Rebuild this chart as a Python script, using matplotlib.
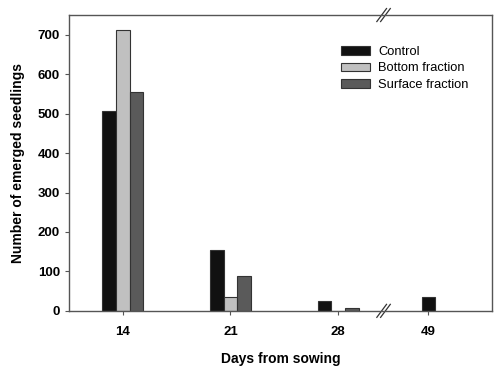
import numpy as np
import matplotlib.pyplot as plt

plt.rcParams['font.family'] = ['Liberation Sans', 'DejaVu Sans']

days = ['14', '21', '28', '49']
day_pos = [0, 1, 2, 2.84]
control = [506, 154, 25, 34]
bottom = [713, 34, 0, 0]
surface = [555, 89, 8, 0]

fig = plt.figure(figsize=(5, 3.67), dpi=100)
ax = fig.add_axes([0.138, 0.153, 0.846, 0.806])

w = 0.127
pos = np.array(day_pos)
# first three days have all three groups, day 49 only control
ax.bar(pos[:3] - w, control[:3], w, color='#111111', edgecolor='#333333', linewidth=0.8, label='Control')
ax.bar(pos[:3], bottom[:3], w, color='#c0c0c0', edgecolor='#333333', linewidth=0.8, label='Bottom fraction')
ax.bar(pos[:3] + w, surface[:3], w, color='#5a5a5a', edgecolor='#333333', linewidth=0.8, label='Surface fraction')
ax.bar(pos[3], control[3], w, color='#111111', edgecolor='#333333', linewidth=0.8)

ax.set_xlim(-0.5, 3.43)
ax.set_ylim(0, 750)
ax.set_xticks(day_pos)
ax.set_xticklabels(days)
ax.set_yticks(range(0, 701, 100))
for lab in ax.get_xticklabels() + ax.get_yticklabels():
    lab.set_fontweight('bold')
    lab.set_fontsize(9.5)
ax.tick_params(axis='both', direction='out', length=3, width=0.8, color='#555555')
ax.tick_params(axis='x', pad=8)
for s in ax.spines.values():
    s.set_color('#555555')
    s.set_linewidth(1)

ax.set_xlabel('Days from sowing', fontsize=10, fontweight='bold', labelpad=10)
ax.set_ylabel('Number of emerged seedlings', fontsize=10, fontweight='bold', labelpad=9)

# axis break marks
brk = 2.44
for yb in (0, 1):
    for dx in (-0.035, 0.0):
        ax.plot([brk + dx - 0.045, brk + dx + 0.045], [yb - 0.022, yb + 0.022],
                transform=ax.get_xaxis_transform(), color='#333333', lw=0.9, clip_on=False)

leg = ax.legend(loc='upper right', bbox_to_anchor=(0.972, 0.935), frameon=False, fontsize=9.3,
                handlelength=2.3, handleheight=0.65, labelspacing=0.35, handletextpad=0.6)

fig.savefig('out.png', dpi=100)
